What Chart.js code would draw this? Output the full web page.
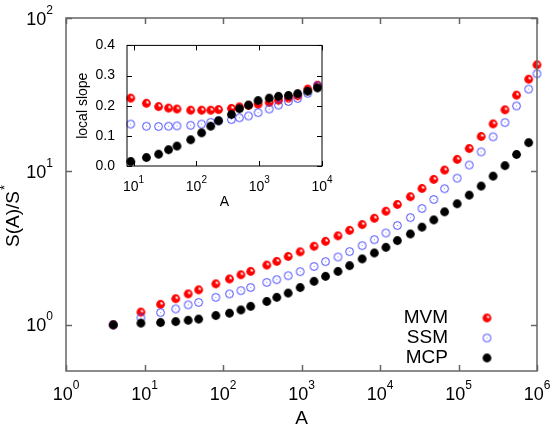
<!DOCTYPE html>
<html>
<head>
<meta charset="utf-8">
<script src="https://cdn.jsdelivr.net/npm/chart.js@4.4.1/dist/chart.umd.min.js"></script>
<style>
  body { margin: 0; background: #fff; }
  #wrap { position: relative; width: 554px; height: 426px; }
  #mainChart { position: absolute; left: 0; top: 0; }
  #insetChart { position: absolute; left: 70px; top: 25px; }
</style>
</head>
<body>
<div id="wrap">
  <canvas id="mainChart" width="554" height="426"></canvas>
  <canvas id="insetChart" width="265" height="190"></canvas>
</div>
<script>
// main plot: S(A)/S* vs A
let areas = [4, 9, 16, 25, 36, 49, 81, 121, 169, 225, 361, 484, 676, 961, 1444, 2025, 2916, 4096, 5929, 8464,
  11881, 16641, 24336, 34225, 48400, 66564, 96100, 136900, 194481, 275625, 390625, 549081, 783225, 1000000];
let mvm = [1.0, 1.21, 1.36, 1.48, 1.59, 1.69, 1.85, 1.99, 2.12, 2.23, 2.45, 2.59, 2.79, 2.99, 3.25, 3.50, 3.80, 4.13,
  4.50, 4.95, 5.50, 6.09, 6.84, 7.74, 8.87, 10.2, 11.97, 14.1, 16.9, 20.4, 25.2, 31.4, 39.9, 49.5];
let ssm = [1.0, 1.11, 1.20, 1.27, 1.35, 1.40, 1.51, 1.59, 1.67, 1.75, 1.89, 1.97, 2.09, 2.22, 2.40, 2.58, 2.77, 3.00,
  3.28, 3.59, 3.97, 4.44, 5.00, 5.73, 6.56, 7.71, 9.04, 11.0, 13.4, 16.8, 20.8, 26.7, 34.4, 43.3];
let mcp = [1.0, 1.025, 1.035, 1.05, 1.07, 1.09, 1.15, 1.19, 1.25, 1.32, 1.42, 1.51, 1.61, 1.75, 1.92, 2.07, 2.23, 2.43,
  2.69, 2.94, 3.20, 3.54, 3.91, 4.33, 4.83, 5.45, 6.15, 7.00, 8.02, 9.31, 10.9, 12.9, 15.4];

// inset: local slope vs A
let insetAreas = [9, 16, 25, 36, 49, 81, 121, 169, 225, 361, 484, 676, 961, 1444, 2025, 2916, 4096, 5929, 8464];
let slopeMvm = [0.225, 0.208, 0.197, 0.192, 0.189, 0.185, 0.185, 0.185, 0.187, 0.191, 0.196, 0.201, 0.205, 0.211,
  0.218, 0.225, 0.233, 0.255, 0.268];
let slopeSsm = [0.139, 0.132, 0.131, 0.132, 0.133, 0.135, 0.139, 0.145, 0.150, 0.154, 0.160, 0.166, 0.177, 0.189,
  0.202, 0.214, 0.224, 0.241, 0.266];
let slopeMcp = [0.015, 0.028, 0.039, 0.054, 0.066, 0.087, 0.110, 0.132, 0.150, 0.171, 0.190, 0.202, 0.217, 0.225,
  0.231, 0.234, 0.240, 0.248, 0.259];

let xTicks = [1, 10, 100, 1e3, 1e4, 1e5, 1e6];
let yTicks = [1, 10, 100];
let insetXTicks = [10, 100, 1e3, 1e4];
let insetYTicks = [0, 0.1, 0.2, 0.3, 0.4];

let font = "'Liberation Sans', Arial, sans-serif";

// point markers
function marker(draw) {
  let c = document.createElement("canvas");
  c.width = 11; c.height = 11;
  draw(c.getContext("2d"));
  return c;
}
let redBall = marker(g => {
  g.fillStyle = "#ff0000";
  g.beginPath(); g.arc(5.5, 5.5, 4.4, 0, 2 * Math.PI); g.fill();
  g.fillStyle = "#fff";
  g.beginPath(); g.moveTo(5.5, 5.5); g.arc(5.5, 5.5, 2.5, -Math.PI / 2, 0); g.closePath(); g.fill();
});
let blueRing = marker(g => {
  g.strokeStyle = "#4040ff"; g.lineWidth = 1;
  g.beginPath(); g.arc(5.5, 5.5, 3.9, 0, 2 * Math.PI); g.stroke();
  g.fillStyle = "#9090ff"; g.fillRect(5, 5, 1, 1);
});
let blackDot = marker(g => {
  g.fillStyle = "#000";
  g.beginPath(); g.arc(5.5, 5.5, 4.4, 0, 2 * Math.PI); g.fill();
});

function pts(xs, ys) { return ys.map((y, i) => ({ x: xs[i], y: y })); }

// border box + inward ticks on all four sides
function framePlugin(color, width, len) {
  return {
    id: "frame",
    afterDraw(chart) {
      let a = chart.chartArea, g = chart.ctx;
      let xs = chart.scales.x, ys = chart.scales.y;
      g.save();
      g.strokeStyle = color;
      g.lineWidth = width;
      g.beginPath();
      xs.ticks.forEach(t => {
        let px = Math.round(xs.getPixelForValue(t.value)) + 0.5;
        g.moveTo(px, a.bottom); g.lineTo(px, a.bottom - len);
        g.moveTo(px, a.top); g.lineTo(px, a.top + len);
      });
      ys.ticks.forEach(t => {
        let py = Math.round(ys.getPixelForValue(t.value)) + 0.5;
        g.moveTo(a.left, py); g.lineTo(a.left + len, py);
        g.moveTo(a.right, py); g.lineTo(a.right - len, py);
      });
      g.stroke();
      g.strokeRect(a.left, a.top, a.right - a.left, a.bottom - a.top);
      g.restore();
    }
  };
}

// 10^n tick labels with a real raised exponent
function powerLabels(cfg) {
  return {
    id: "powerLabels",
    afterDraw(chart) {
      let g = chart.ctx, a = chart.chartArea;
      g.save();
      g.fillStyle = "#000";
      g.textAlign = "left";
      g.textBaseline = "alphabetic";
      Object.keys(cfg).forEach(id => {
        let s = chart.scales[id], c = cfg[id];
        s.ticks.forEach(t => {
          let e = String(Math.round(Math.log10(t.value)));
          g.font = c.size + "px " + font;
          let w1 = g.measureText("10").width;
          g.font = c.sup + "px " + font;
          let w2 = g.measureText(e).width;
          let x0, base;
          if (s.isHorizontal()) {
            x0 = s.getPixelForValue(t.value) - (w1 + w2) / 2;
            base = a.bottom + c.gap;
          } else {
            x0 = a.left - c.gap - w1 - w2;
            base = s.getPixelForValue(t.value) + c.drop;
          }
          g.font = c.size + "px " + font;
          g.fillText("10", x0, base);
          g.font = c.sup + "px " + font;
          g.fillText(e, x0 + w1, base - c.raise);
        });
      });
      g.restore();
    }
  };
}

// key in the lower right: label then marker
let keyPlugin = {
  id: "key",
  afterDraw(chart) {
    let g = chart.ctx;
    g.save();
    g.font = "19px " + font;
    g.fillStyle = "#000";
    g.textAlign = "right";
    g.textBaseline = "middle";
    chart.data.datasets.forEach((d, i) => {
      let y = 318 + 20 * i;
      g.fillText(d.label, 448, y);
      g.drawImage(d.pointStyle, 487 - 5.5, y - 5.5);
    });
    g.restore();
  }
};

// y title with superscript star
let yTitlePlugin = {
  id: "yTitle",
  afterDraw(chart) {
    let g = chart.ctx;
    g.save();
    g.translate(14, 219);
    g.rotate(-Math.PI / 2);
    g.fillStyle = "#000";
    g.font = "19px " + font;
    g.textBaseline = "middle";
    let w = g.measureText("S(A)/S").width;
    g.fillText("S(A)/S", -w / 2, 0);
    g.font = "13px " + font;
    g.fillText("*", w / 2 + 1, -9);
    g.restore();
  }
};

let hiddenTicks = { display: false };

new Chart(document.getElementById("mainChart"), {
  type: "scatter",
  data: {
    datasets: [
      { label: "MVM", data: pts(areas, mvm), pointStyle: redBall, order: 3, clip: false },
      { label: "SSM", data: pts(areas, ssm), pointStyle: blueRing, order: 2, clip: false },
      { label: "MCP", data: pts(areas, mcp), pointStyle: blackDot, order: 1, clip: false },
    ],
  },
  options: {
    responsive: false,
    animation: false,
    devicePixelRatio: 1,
    layout: { padding: { left: 0, right: 17, top: 18, bottom: 0 } },
    plugins: { legend: { display: false }, tooltip: { enabled: false } },
    scales: {
      x: {
        type: "logarithmic", min: 1, max: 1e6,
        afterFit: s => { s.height = 55; },
        afterBuildTicks: s => { s.ticks = xTicks.map(v => ({ value: v })); },
        grid: { display: false, drawTicks: false }, border: { display: false },
        ticks: hiddenTicks,
        title: { display: true, text: "A", font: { family: font, size: 19 }, color: "#000", padding: { top: 0, bottom: -4 } },
      },
      y: {
        type: "logarithmic", min: 0.5, max: 100,
        afterFit: s => { s.width = 66; },
        afterBuildTicks: s => { s.ticks = yTicks.map(v => ({ value: v })); },
        grid: { display: false, drawTicks: false }, border: { display: false },
        ticks: hiddenTicks,
      },
    },
  },
  plugins: [
    framePlugin("#666", 1.5, 6),
    powerLabels({ x: { size: 18, sup: 12, gap: 29, raise: 11 }, y: { size: 18, sup: 12, gap: 13, drop: 6.5, raise: 11 } }),
    keyPlugin, yTitlePlugin,
  ],
});

new Chart(document.getElementById("insetChart"), {
  type: "scatter",
  data: {
    datasets: [
      { label: "MVM", data: pts(insetAreas, slopeMvm), pointStyle: redBall, order: 3, clip: false },
      { label: "SSM", data: pts(insetAreas, slopeSsm), pointStyle: blueRing, order: 2, clip: false },
      { label: "MCP", data: pts(insetAreas, slopeMcp), pointStyle: blackDot, order: 1, clip: false },
    ],
  },
  options: {
    responsive: false,
    animation: false,
    devicePixelRatio: 1,
    layout: { padding: { left: 0, right: 13, top: 12, bottom: 0 } },
    plugins: { legend: { display: false }, tooltip: { enabled: false } },
    scales: {
      x: {
        type: "logarithmic", min: 7.85, max: 1e4,
        afterFit: s => { s.height = 49; },
        afterBuildTicks: s => { s.ticks = insetXTicks.map(v => ({ value: v })); },
        grid: { display: false, drawTicks: false }, border: { display: false },
        ticks: hiddenTicks,
        title: { display: true, text: "A", font: { family: font, size: 14 }, color: "#000", padding: { top: 0, bottom: 4 } },
      },
      y: {
        min: 0, max: 0.4,
        afterFit: s => { s.width = 57; },
        afterBuildTicks: s => { s.ticks = insetYTicks.map(v => ({ value: v })); },
        grid: { display: false, drawTicks: false }, border: { display: false },
        ticks: { callback: v => v.toFixed(1), font: { family: font, size: 14 }, color: "#000", padding: 12, autoSkip: false },
        title: { display: true, text: "local slope", font: { family: font, size: 14 }, color: "#000", padding: { top: 5, bottom: 0 } },
      },
    },
  },
  plugins: [framePlugin("#000", 1, 5), powerLabels({ x: { size: 14, sup: 10, gap: 25, raise: 8 } })],
});
</script>
</body>
</html>
